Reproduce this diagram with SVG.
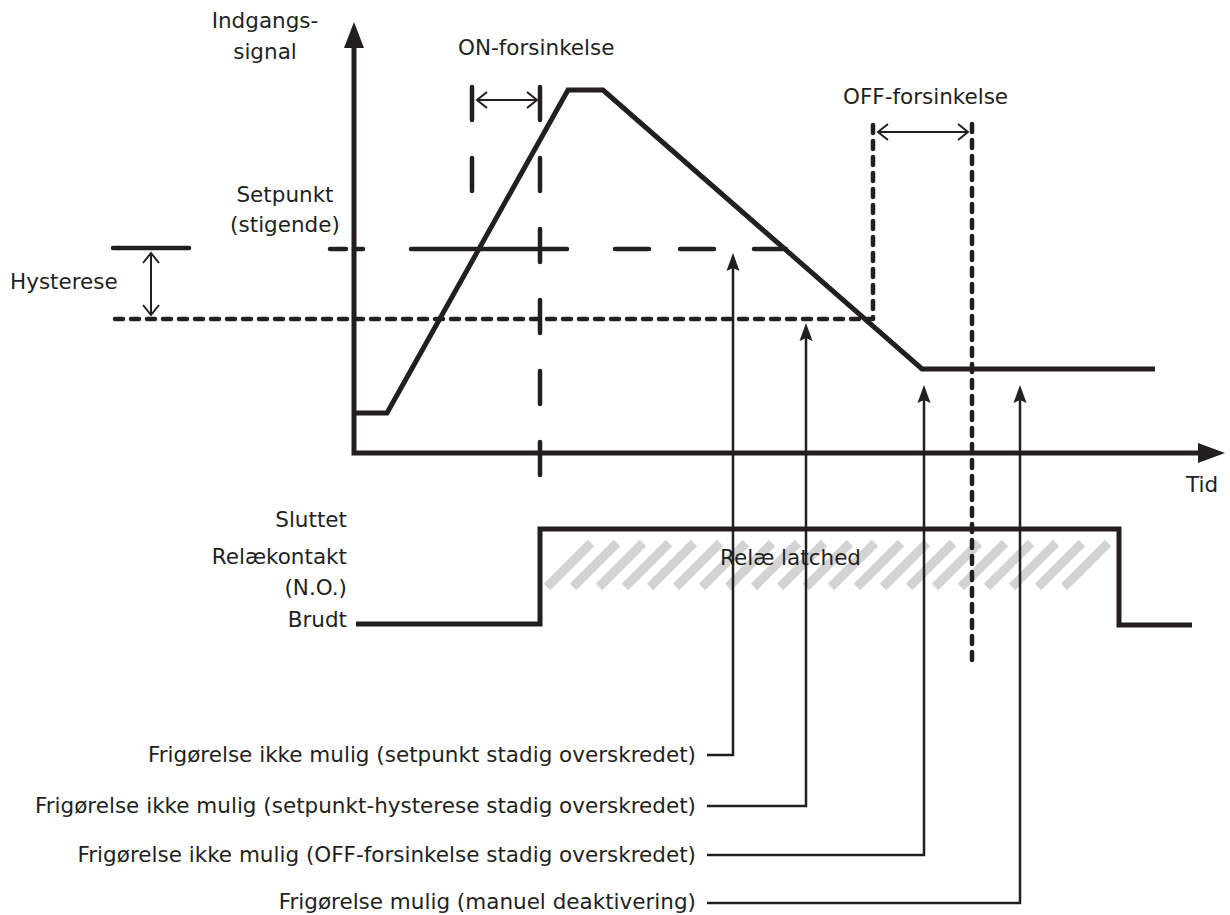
<svg xmlns="http://www.w3.org/2000/svg" width="1230" height="915" viewBox="0 0 1230 915">
<style>
text{font-family:"DejaVu Sans","Liberation Sans",sans-serif;font-size:21.5px;fill:#231f20}
.thick{fill:none;stroke:#231f20;stroke-width:5;stroke-linejoin:miter}
.sp{fill:none;stroke:#231f20;stroke-width:4.5;stroke-linecap:round}
.ondash{fill:none;stroke:#231f20;stroke-width:4.5;stroke-linecap:round;stroke-dasharray:33 38}
.dot{fill:none;stroke:#231f20;stroke-width:4.5;stroke-linecap:round;stroke-linejoin:round;stroke-dasharray:8 8}
.thin{fill:none;stroke:#231f20;stroke-width:2}
.conn{fill:none;stroke:#231f20;stroke-width:2.5}
.hatch line{stroke:#d3d3d3;stroke-width:9}
.r{text-anchor:end}
.m{text-anchor:middle}
</style>
<defs>
<marker id="chev" viewBox="-12 -10 14 20" refX="0" refY="0" markerWidth="14" markerHeight="20" markerUnits="userSpaceOnUse" orient="auto-start-reverse" overflow="visible">
<path d="M-10,-8 L0,0 L-10,8" fill="none" stroke="#231f20" stroke-width="2"/>
</marker>
<marker id="tri" viewBox="0 0 18 14" refX="12" refY="7" markerWidth="18" markerHeight="14" markerUnits="userSpaceOnUse" orient="auto">
<path d="M0,0.5 L18,7 L0,13.5 L3,7 z" fill="#231f20"/>
</marker>
</defs>

<g id="hatch" class="hatch">
<line x1="547" y1="587" x2="591" y2="543"/>
<line x1="573" y1="587" x2="617" y2="543"/>
<line x1="599" y1="587" x2="643" y2="543"/>
<line x1="625" y1="587" x2="669" y2="543"/>
<line x1="650" y1="587" x2="694" y2="543"/>
<line x1="676" y1="587" x2="720" y2="543"/>
<line x1="702" y1="587" x2="746" y2="543"/>
<line x1="728" y1="587" x2="772" y2="543"/>
<line x1="754" y1="587" x2="798" y2="543"/>
<line x1="780" y1="587" x2="824" y2="543"/>
<line x1="806" y1="587" x2="850" y2="543"/>
<line x1="831" y1="587" x2="875" y2="543"/>
<line x1="857" y1="587" x2="901" y2="543"/>
<line x1="883" y1="587" x2="927" y2="543"/>
<line x1="909" y1="587" x2="953" y2="543"/>
<line x1="935" y1="587" x2="979" y2="543"/>
<line x1="961" y1="587" x2="1005" y2="543"/>
<line x1="987" y1="587" x2="1031" y2="543"/>
<line x1="1012" y1="587" x2="1056" y2="543"/>
<line x1="1038" y1="587" x2="1082" y2="543"/>
<line x1="1064" y1="587" x2="1108" y2="543"/>
</g>

<g id="axes">
<polyline class="thick" points="354,46 354,453 1200,453"/>
<polygon points="354,22 344,48 364,48" fill="#231f20"/>
<polygon points="1225,453 1198,443 1198,463" fill="#231f20"/>
<text x="265" y="28" class="m">Indgangs-</text>
<text x="265" y="59" class="m">signal</text>
<text x="1186" y="492">Tid</text>
</g>

<g id="setpoint">
<line class="sp" x1="330" y1="249" x2="346" y2="249"/>
<line class="sp" x1="354" y1="249" x2="363" y2="249"/>
<line class="sp" x1="411" y1="249" x2="567" y2="249"/>
<line class="sp" x1="615" y1="249" x2="649" y2="249"/>
<line class="sp" x1="680" y1="249" x2="714" y2="249"/>
<line class="sp" x1="754" y1="249" x2="786" y2="249"/>
<text x="285" y="202" class="m">Setpunkt</text>
<text x="285" y="232" class="m">(stigende)</text>
</g>

<g id="hysteresis">
<line x1="113" y1="248" x2="189" y2="248" stroke="#231f20" stroke-width="4.5" stroke-linecap="round"/>
<line class="thin" x1="151" y1="253" x2="151" y2="315" marker-start="url(#chev)" marker-end="url(#chev)"/>
<polyline class="dot" points="115,319 873,319 873,124"/>
<text x="10" y="289">Hysterese</text>
</g>

<g id="on-delay">
<line class="ondash" x1="472" y1="87" x2="472" y2="192"/>
<line class="ondash" x1="540" y1="87" x2="540" y2="477"/>
<line class="thin" x1="477" y1="100" x2="537" y2="100" marker-start="url(#chev)" marker-end="url(#chev)"/>
<text x="458" y="55">ON-forsinkelse</text>
</g>

<g id="off-delay">
<line class="dot" x1="972" y1="124" x2="972" y2="666"/>
<line class="thin" x1="878" y1="132" x2="968" y2="132" marker-start="url(#chev)" marker-end="url(#chev)"/>
<text x="843" y="104">OFF-forsinkelse</text>
</g>

<g id="signal">
<polyline class="thick" points="355,413 387,413 568,90 603,90 922,369 1155,369"/>
</g>

<g id="relay">
<polyline class="thick" points="356,624 540,624 540,529 1119,529 1119,625 1192,625"/>
<text x="347" y="527" class="r">Sluttet</text>
<text x="347" y="564" class="r">Relækontakt</text>
<text x="347" y="595" class="r">(N.O.)</text>
<text x="347" y="627" class="r">Brudt</text>
<text x="720" y="565">Relæ latched</text>
</g>

<g id="connectors">
<polyline class="conn" points="707,755 733,755 733,259" marker-end="url(#tri)"/>
<polyline class="conn" points="707,806 806,806 806,329" marker-end="url(#tri)"/>
<polyline class="conn" points="707,855 924,855 924,391" marker-end="url(#tri)"/>
<polyline class="conn" points="707,903 1020,903 1020,391" marker-end="url(#tri)"/>
</g>

<g id="release-labels">
<text x="696" y="762" class="r">Frigørelse ikke mulig (setpunkt stadig overskredet)</text>
<text x="696" y="813" class="r">Frigørelse ikke mulig (setpunkt-hysterese stadig overskredet)</text>
<text x="696" y="862" class="r">Frigørelse ikke mulig (OFF-forsinkelse stadig overskredet)</text>
<text x="696" y="909" class="r">Frigørelse mulig (manuel deaktivering)</text>
</g>
</svg>
